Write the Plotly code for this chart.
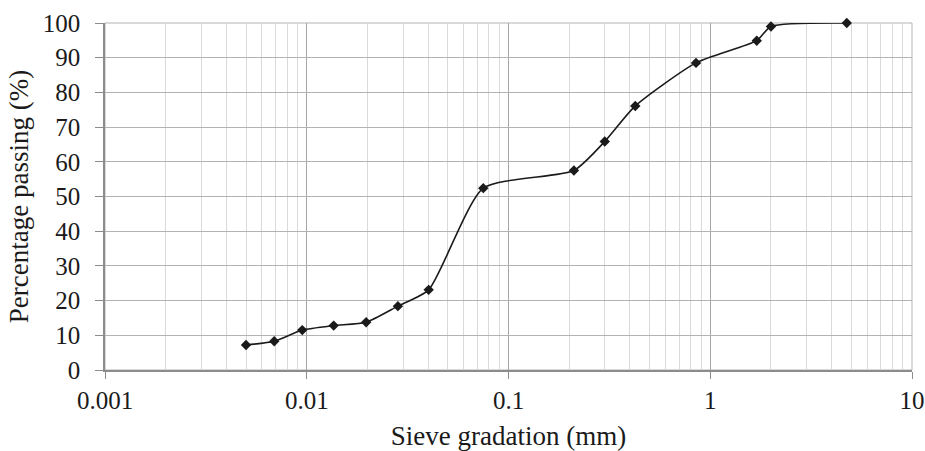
import plotly.graph_objects as go

# Sieve size (mm) and percentage passing
sieve_mm = [0.005, 0.0069, 0.0095, 0.0136, 0.0197, 0.0283, 0.0402, 0.075,
            0.211, 0.3, 0.425, 0.85, 1.7, 2.0, 4.75]
passing_pct = [7.2, 8.3, 11.5, 12.8, 13.75, 18.4, 23.1, 52.4,
               57.5, 65.85, 76.1, 88.5, 94.9, 99.0, 100]

x_tickvals = [0.001, 0.01, 0.1, 1, 10]
x_ticktext = ["0.001", "0.01", "0.1", "1", "10"]
y_tickvals = list(range(0, 101, 10))

font_family = "Liberation Serif, Times New Roman, serif"
tick_size = 25
title_size = 27

fig = go.Figure()
fig.add_trace(go.Scatter(
    x=sieve_mm, y=passing_pct, mode="lines+markers",
    line=dict(color="#1a1a1a", width=1.6, shape="spline", smoothing=0.6),
    marker=dict(symbol="diamond", size=8, color="#1a1a1a"),
    showlegend=False, cliponaxis=False,
))

fig.update_layout(
    width=925, height=451,
    margin=dict(l=105, r=13, t=23, b=81),
    paper_bgcolor="white", plot_bgcolor="white",
    font=dict(family=font_family, size=tick_size, color="#1a1a1a"),
    xaxis=dict(
        type="log", range=[-3, 1], automargin=False,
        tickvals=x_tickvals, ticktext=x_ticktext,
        tickfont=dict(family=font_family, size=tick_size, color="#1a1a1a"),
        showgrid=True, gridcolor="#a6a6a6", gridwidth=1,
        minor=dict(dtick="D1", showgrid=True, gridcolor="#d9d9d9", gridwidth=1),
        showline=True, linecolor="#8c8c8c", linewidth=1.5, mirror=False,
        ticks="outside", ticklen=7, tickcolor="#8c8c8c",
        ticklabelstandoff=0,
        title=dict(text="Sieve gradation (mm)", standoff=18,
                   font=dict(family=font_family, size=title_size, color="#1a1a1a")),
        zeroline=False,
    ),
    yaxis=dict(
        range=[0, 100], tickvals=y_tickvals, automargin=False,
        tickfont=dict(family=font_family, size=tick_size, color="#1a1a1a"),
        showgrid=True, gridcolor="#b3b3b3", gridwidth=1,
        showline=True, linecolor="#8c8c8c", linewidth=1.5,
        ticks="outside", ticklen=8, tickcolor="#8c8c8c",
        ticklabelstandoff=10,
        title=dict(text="Percentage passing (%)", standoff=6,
                   font=dict(family=font_family, size=title_size, color="#1a1a1a")),
        zeroline=False,
    ),
)
fig.add_shape(type="rect", xref="paper", yref="paper", x0=0, y0=0, x1=1, y1=1,
              line=dict(color="#b3b3b3", width=1), layer="below")

fig.write_html("out.html", config={"displayModeBar": False})

# remove the default page margin so the figure sits at the window's corner
with open("out.html", "r", encoding="utf-8") as f:
    html = f.read()
html = html.replace("<head>", "<head><style>html,body{margin:0;padding:0;overflow:hidden;}</style>", 1)
with open("out.html", "w", encoding="utf-8") as f:
    f.write(html)
